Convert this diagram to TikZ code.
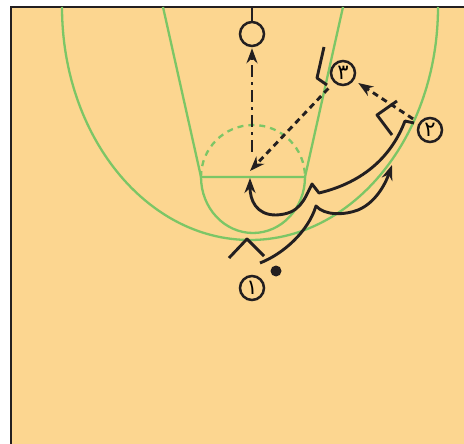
\documentclass[tikz,border=0pt]{standalone}
\usepackage{fontspec}
\newfontfamily\arabicfont[Script=Arabic]{DejaVu Sans}
\usetikzlibrary{arrows.meta,positioning}
\definecolor{parquet}{RGB}{252,214,144}
\definecolor{courtline}{RGB}{124,198,102}
\definecolor{ink}{RGB}{35,31,32}

\begin{document}
\begin{tikzpicture}[x=1pt, y=-1pt,
    court/.style={courtline, line width=2.3pt},
    move/.style={ink, line width=2.9pt, line join=round},
    pass/.style={move, dash pattern=on 6pt off 4.5pt},
    tip/.style={-{Stealth[length=15pt,width=11pt]}},
    player/.style={circle, draw=ink, line width=2.5pt, minimum size=24pt, inner sep=0pt,
      font=\arabicfont\fontsize{21}{21}\selectfont}]
    \useasboundingbox (0,0) rectangle (464,444);
    \fill[parquet] (11,7) rectangle (464,444);
    \draw[ink, line width=2.8pt] (11,444) -- (11,7) -- (464,7);
    % court lines
    \draw[court] (62,7) arc[start angle=180, end angle=0, x radius=188, y radius=233];
    \draw[court] (163,7) -- (201,177) -- (305,177) -- (343,7);
    \draw[court, dash pattern=on 6pt off 5pt] (201,177) arc[start angle=180, end angle=360, radius=52];
    \draw[court] (201,177) arc[start angle=180, end angle=0, x radius=52, y radius=56];
    % basket
    \node[circle, draw=ink, line width=2.5pt, minimum size=24pt, inner sep=0pt] (basket) at (252,34) {};
    \draw[move] (252,7) -- (basket.north);
    % players
    \node[player] (p1) at (252,288) {١};
    \node[player] (p2) at (430,130) {٢};
    \node[player] (p3) at (343,73) {٣};
    \fill[ink] (276,271) circle (5.5);
    \coordinate (shot) at (252,152);
    \coordinate (catch) at (250,171);
    % movements
    \draw[move] (229,258) -- (247,239) -- (264,256);
    \draw[move] (324,47) -- (317,78) -- (327,85);
    \draw[move] (397,101) -- (377,115) -- (392,135);
    \draw[move, tip] (414,123) -- (405,121) .. controls (392,155) and (365,182) .. (319,193)
      -- (312,184) .. controls (304,200) and (300,214) .. (276,215)
      .. controls (256,215) and (250,200) .. (250,178);
    \draw[move, tip] (260,263) .. controls (283,254) and (308,232) .. (316,206)
      .. controls (325,216) and (345,215) .. (358,210)
      .. controls (375,203) and (385,185) .. (392,165);
    \draw[pass, tip, shorten <=7pt, shorten >=5pt] (p2) -- (p3);
    \draw[pass, tip, shorten <=8pt] (p3) -- (catch);
    \draw[move, tip, dash pattern=on 12pt off 5pt on 3pt off 5pt, shorten >=1pt] (shot) -- (basket);
\end{tikzpicture}
\end{document}
